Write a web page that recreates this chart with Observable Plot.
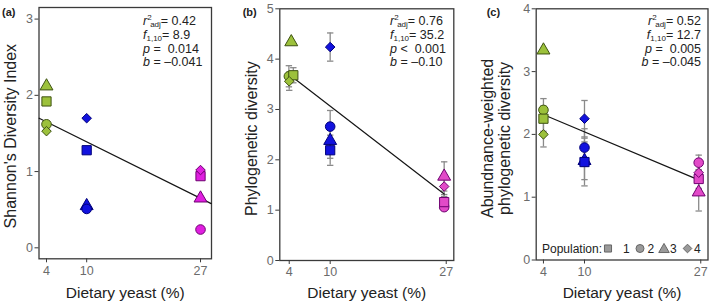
<!DOCTYPE html>
<html><head><meta charset="utf-8">
<script src="https://cdn.jsdelivr.net/npm/d3@7"></script>
<script src="https://cdn.jsdelivr.net/npm/@observablehq/plot@0.6"></script>
<style>
body{margin:0;background:#fff;font-family:"Liberation Sans",Arial,sans-serif;}
#wrap{display:flex;width:709px;height:303px;overflow:hidden}
svg{display:block;overflow:visible}
</style></head><body><div id="wrap"></div>
<script>
// ---------- data ----------
const yeast = [4, 10, 27];
const populations = ["1", "2", "3", "4"];
const yTicksA = [0, 1, 2, 3];
const yTicksB = [0, 1, 2, 3, 4, 5];
const yTicksC = [0, 1, 2, 3, 4];
const yLabels = ["Shannon's Diversity Index", "Phylogenetic diversity", "Abundnance-weighted\nphylogenetic diversity"];
const xLabel = "Dietary yeast (%)";
const panelTags = ["(a)", "(b)", "(c)"];

// rows: population 1..4 ; columns: yeast 4, 10, 27 %
const shannon = [
  [1.92, 1.28, 0.94],
  [1.62, 0.51, 0.24],
  [2.12, 0.55, 0.65],
  [1.53, 1.70, 1.02]];
const shannonX = [[4, 10, 27], [4, 10, 27], [4, 10, 27], [4, 10, 27]];

const phylo = [
  [3.68, 2.19, 1.16],
  [3.66, 2.66, 1.06],
  [4.34, 2.38, 1.67],
  [3.56, 4.24, 1.47]];
const phyloX = [[4.6, 10, 26.7], [3.95, 10, 26.7], [4.3, 10, 26.7], [4.0, 10, 26.7]];
const phyloErr = [
  [0.15, 0.30, 0.15],
  [0.21, 0.32, 0.05],
  [0.00, 0.35, 0.29],
  [0.18, 0.28, 0.20]];

const awpd = [
  [2.25, 1.56, 1.29],
  [2.39, 1.79, 1.55],
  [3.34, 1.58, 1.08],
  [2.00, 2.25, 1.39]];
const awpdX = [[4, 10, 26.7], [4, 10, 26.7], [4, 10, 26.7], [4, 10, 26.7]];
const awpdErr = [
  [0.20, 0.38, 0.15],
  [0.18, 0.30, 0.12],
  [0.00, 0.30, 0.30],
  [0.20, 0.29, 0.15]];

// regression line end points
const fitAX = [2.9, 28.6], fitAY = [1.70, 0.58];
const fitBX = [4.7, 26.7], fitBY = [3.62, 1.32];
const fitCX = [4.3, 26.6], fitCY = [2.30, 1.28];

// statistics
const r2 = ["0.42", "0.76", "0.52"];
const fStat = ["8.9", "35.2", "12.7"];
const pText = ["=  0.014", "<  0.001", "=  0.005"];
const slope = ["\u20130.041", "\u20130.10", "\u20130.045"];

// ---------- styling / layout ----------
const fillA = ["#9CC13B", "#1212DE", "#E01FE0"];
const fillBC = ["#9CC13B", "#1212DE", "#E24AC8"];
const outline = ["#3E5212", "#00007A", "#6E0070"];
const symbols = ["square", "circle", "triangle", "diamond2"];
const symR = [5.2, 4.8, 4.8, 4.3];
const legR = [4.0, 4.0, 3.9, 3.9];
const drawOrder = [2, 1, 0, 3]; // triangle, circle, square, diamond
const FONT = "'Liberation Sans', Arial, sans-serif";
const d3sym = {square: d3.symbolSquare, circle: d3.symbolCircle, triangle: d3.symbolTriangle, diamond2: d3.symbolDiamond2};

const panels = [
  {vals: shannon, xs: shannonX, err: null, fills: fillA, yticks: yTicksA, fitX: fitAX, fitY: fitAY,
   width: 236, ml: 38.5, mr: 25, mt: 7, mb: 44.7, ydom: [-0.144, 3.152], xdom: [2.88, 28.64],
   ylabDx: -28.5, ylabDy: 3, xlabDy: 34.7, statX: 143, statAnchor: "start", tagX: 2},
  {vals: phylo, xs: phyloX, err: phyloErr, fills: fillBC, yticks: yTicksB, fitX: fitBX, fitY: fitBY,
   width: 234, ml: 43.3, mr: 16.7, mt: 8.3, mb: 43, ydom: [0, 5], xdom: [2.62, 28.11],
   ylabDx: -28.3, ylabDy: 4, xlabDy: 33, statX: 154, statAnchor: "start", tagX: 6.7},
  {vals: awpd, xs: awpdX, err: awpdErr, fills: fillBC, yticks: yTicksC, fitX: fitCX, fitY: fitCY,
   width: 239, ml: 65.7, mr: 1.5, mt: 8.3, mb: 43.5, ydom: [0, 4], xdom: [2.94, 28.06],
   ylabDx: -40, ylabDy: 4, xlabDy: 33.5, statX: 231, statAnchor: "end", tagX: 16.7, legend: true}
];
// legend layout inside panel (c) (local pixel offsets)
const legendY = 248.5;
const legendTitleEnd = 132;
const legendSymX = [138, 170, 194, 217.5];
const legendNumX = [153, 177.5, 200, 224];

const capSymbol = {draw(ctx) { ctx.moveTo(-3.2, 0); ctx.lineTo(3.2, 0); }};
const wrap = document.getElementById("wrap");

panels.forEach((cfg, k) => {
  const rows = [];
  cfg.vals.forEach((vals, p) => vals.forEach((v, j) => rows.push({
    pop: p, x: cfg.xs[p][j], y: v, e: cfg.err ? cfg.err[p][j] : 0,
    fill: cfg.fills[j], stroke: outline[j]
  })));
  const errRows = rows.filter(d => d.e > 0);
  const caps = errRows.flatMap(d => [{x: d.x, y: d.y - d.e}, {x: d.x, y: d.y + d.e}]);
  const fit = cfg.fitX.map((x, i) => ({x, y: cfg.fitY[i]}));

  const marks = [
    Plot.frame({stroke: "#3a3a3a", strokeWidth: 1.3}),
    Plot.axisX(yeast, {tickSize: 4, tickPadding: 3, label: null, tickFormat: d => String(d), stroke: "#3a3a3a", fill: "#6b6b6b", fontSize: 12.5}),
    Plot.axisY(cfg.yticks, {tickSize: 4, tickPadding: 2, label: null, tickFormat: d => String(d), stroke: "#3a3a3a", fill: "#6b6b6b", fontSize: 12.5}),
    Plot.ruleX(errRows, {x: "x", y1: d => d.y - d.e, y2: d => d.y + d.e, stroke: "#8a8a8a", strokeWidth: 1.3}),
    Plot.dot(caps, {x: "x", y: "y", symbol: capSymbol, r: 3, stroke: "#8a8a8a", strokeWidth: 1.3, fill: "none"}),
    Plot.line(fit, {x: "x", y: "y", stroke: "#151515", strokeWidth: 1.2}),
    ...drawOrder.map(p => Plot.dot(rows.filter(d => d.pop === p), {
      x: "x", y: "y", symbol: symbols[p], r: symR[p], fill: "fill", stroke: "stroke", strokeWidth: 1
    })),
    Plot.text([yLabels[k]], {text: d => d, frameAnchor: "left", textAnchor: "middle", lineAnchor: "middle",
      rotate: -90, dx: cfg.ylabDx, dy: cfg.ylabDy, fontSize: 16, fill: "#222", lineHeight: 1.08}),
    Plot.text([xLabel], {text: d => d, frameAnchor: "bottom", textAnchor: "middle", lineAnchor: "middle",
      dy: cfg.xlabDy, fontSize: 15.5, fill: "#222"})
  ];

  const el = Plot.plot({
    width: cfg.width, height: 303,
    marginLeft: cfg.ml, marginRight: cfg.mr, marginTop: cfg.mt, marginBottom: cfg.mb,
    x: {domain: cfg.xdom}, y: {domain: cfg.ydom},
    style: {fontFamily: FONT, fontSize: "12.5px", background: "white", color: "#222"},
    marks
  });
  const svgEl = el.tagName.toLowerCase() === "svg" ? el : el.querySelector("svg");
  wrap.appendChild(el);
  const svg = d3.select(svgEl);

  // panel tag
  svg.append("text").attr("x", cfg.tagX).attr("y", 16).attr("font-size", 11).attr("font-weight", "bold")
    .attr("text-anchor", "start").attr("fill", "#222").attr("font-family", FONT).text(panelTags[k]);

  // statistics block
  const g = svg.append("g").attr("font-size", 12.5).attr("fill", "#222").attr("font-family", FONT)
    .attr("text-anchor", cfg.statAnchor).style("white-space", "pre");
  const base = [25, 38.5, 52.5, 66];
  const t1 = g.append("text").attr("x", cfg.statX).attr("y", base[0]);
  t1.append("tspan").attr("font-style", "italic").text("r");
  t1.append("tspan").attr("font-size", 8).attr("dy", -5).text("2");
  t1.append("tspan").attr("font-size", 8).attr("dy", 7).attr("dx", -1.5).text("adj");
  t1.append("tspan").attr("dy", -2).text("= " + r2[k]);
  const t2 = g.append("text").attr("x", cfg.statX).attr("y", base[1]);
  t2.append("tspan").attr("font-style", "italic").text("f");
  t2.append("tspan").attr("font-size", 8).attr("dy", 2).text("1,10");
  t2.append("tspan").attr("dy", -2).text("= " + fStat[k]);
  const t3 = g.append("text").attr("x", cfg.statX).attr("y", base[2]);
  t3.append("tspan").attr("font-style", "italic").text("p");
  t3.append("tspan").text(" " + pText[k]);
  const t4 = g.append("text").attr("x", cfg.statX).attr("y", base[3]);
  t4.append("tspan").attr("font-style", "italic").text("b");
  t4.append("tspan").text(" = " + slope[k]);

  // population legend (panel c)
  if (cfg.legend) {
    const lg = svg.append("g").attr("font-family", FONT).attr("font-size", 12).attr("fill", "#222")
      .attr("text-anchor", "start");
    lg.append("text").attr("x", legendTitleEnd).attr("y", legendY + 4.5).attr("text-anchor", "end").text("Population:");
    populations.forEach((lab, p) => {
      lg.append("path")
        .attr("d", d3.symbol(d3sym[symbols[p]], Math.PI * legR[p] * legR[p])())
        .attr("transform", `translate(${legendSymX[p]},${legendY + (p === 2 ? 1 : 0)})`)
        .attr("fill", "#9a9a9a").attr("stroke", "#666").attr("stroke-width", 1);
      lg.append("text").attr("x", legendNumX[p]).attr("y", legendY + 4.5).text(lab);
    });
  }
});
</script></body></html>
